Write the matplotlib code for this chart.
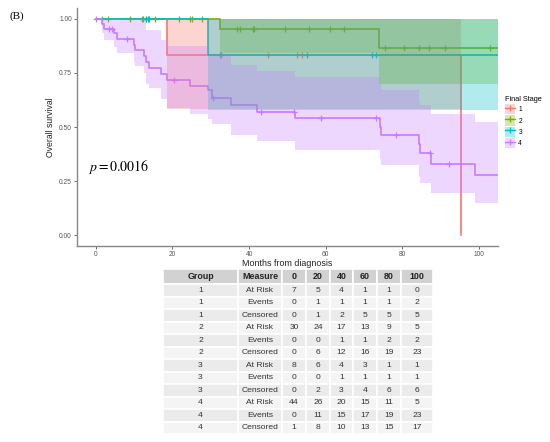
import matplotlib.pyplot as plt
import numpy as np
from matplotlib.patches import Patch
from matplotlib.lines import Line2D

plt.rcParams['font.family'] = ['Liberation Sans', 'DejaVu Sans']
plt.rcParams['mathtext.fontset'] = 'stix'

colors = ['#F8766D', '#7CAE00', '#00BFC4', '#C77CFF']
group_names = ['1', '2', '3', '4']

# Kaplan-Meier step data (time in months, survival)
g1_time = [0, 18.7, 95.3]
g1_surv = [1.0, 0.833, 0.0]
g1_end = 95.3
g1_cens = [13.0, 32.4, 45.0, 52.4, 53.7]
g1_ci_time = [18.7, 53.7]
g1_ci_low = [0.585, 0.585]
g1_ci_up = [1.0, 1.0]

g2_time = [0, 32.4, 74.0]
g2_surv = [1.0, 0.951, 0.863]
g2_end = 104.9
g2_cens = [1.6, 3.2, 9.0, 12.1, 12.4, 14.0, 15.5, 21.7, 24.5, 25.1, 27.8,
           36.9, 37.7, 41.0, 41.3, 49.3, 55.6, 61.2, 64.8,
           75.4, 80.5, 84.3, 87.1, 91.2, 102.8]
g2_ci_time = [32.4, 74.0, 104.9]
g2_ci_low = [0.84, 0.70, 0.70]
g2_ci_up = [1.0, 1.0, 1.0]

g3_time = [0, 29.3]
g3_surv = [1.0, 0.833]
g3_end = 104.9
g3_cens = [13.2, 13.7, 32.8, 55.1, 72.2, 73.2]
g3_ci_time = [29.3, 104.9]
g3_ci_low = [0.58, 0.58]
g3_ci_up = [1.0, 1.0]

g4_time = [0, 1.5, 2.2, 4.7, 5.4, 9.9, 10.3, 12.6, 13.2, 13.9, 17.1, 18.6,
           24.5, 29.3, 30.3, 35.4, 42.1, 51.9, 74.1, 74.5, 84.3, 84.5, 87.5, 98.9]
g4_surv = [1.0, 0.977, 0.955, 0.934, 0.906, 0.877, 0.854, 0.829, 0.799, 0.773,
           0.747, 0.719, 0.691, 0.670, 0.633, 0.602, 0.571, 0.541, 0.50, 0.461,
           0.42, 0.378, 0.330, 0.276]
g4_end = 104.9
g4_cens = [0.0, 3.5, 4.1, 8.0, 20.4, 30.6, 43.2, 51.7, 58.9, 73.2, 78.4, 87.3, 92.1]
g4_ci_time = g4_time
g4_ci_low = [1.0, 0.935, 0.90, 0.87, 0.84, 0.80, 0.78, 0.75, 0.70, 0.68, 0.63,
             0.59, 0.558, 0.535, 0.516, 0.465, 0.435, 0.396, 0.35, 0.323, 0.27,
             0.24, 0.194, 0.147]
g4_ci_up = [1.0, 1.0, 1.0, 1.0, 1.0, 1.0, 1.0, 1.0, 0.95, 0.95, 0.90, 0.876,
            0.876, 0.826, 0.826, 0.788, 0.757, 0.731, 0.70, 0.67, 0.62, 0.60,
            0.562, 0.522]

curves = [
    (g1_time, g1_surv, g1_end, g1_cens, g1_ci_time, g1_ci_low, g1_ci_up),
    (g2_time, g2_surv, g2_end, g2_cens, g2_ci_time, g2_ci_low, g2_ci_up),
    (g3_time, g3_surv, g3_end, g3_cens, g3_ci_time, g3_ci_low, g3_ci_up),
    (g4_time, g4_surv, g4_end, g4_cens, g4_ci_time, g4_ci_low, g4_ci_up),
]

# risk table
table_cols = ['Group', 'Measure', '0', '20', '40', '60', '80', '100']
table_groups = ['1', '1', '1', '2', '2', '2', '3', '3', '3', '4', '4', '4']
table_measures = ['At Risk', 'Events', 'Censored'] * 4
table_values = [
    [7, 5, 4, 1, 1, 0],
    [0, 1, 1, 1, 1, 2],
    [0, 1, 2, 5, 5, 5],
    [30, 24, 17, 13, 9, 5],
    [0, 0, 1, 1, 2, 2],
    [0, 6, 12, 16, 19, 23],
    [8, 6, 4, 3, 1, 1],
    [0, 0, 1, 1, 1, 1],
    [0, 2, 3, 4, 6, 6],
    [44, 26, 20, 15, 11, 5],
    [0, 11, 15, 17, 19, 23],
    [1, 8, 10, 13, 15, 17],
]

fig = plt.figure(figsize=(5.5, 4.42), dpi=100)
ax = fig.add_axes([0.1395, 0.4434, 0.766, 0.5385])

for (t, s, end, cens, ci_t, ci_lo, ci_up), c in zip(curves, colors):
    tt = list(t) + [end]
    ss = list(s) + [s[-1]]
    ax.step(tt, ss, where='post', color=c, lw=1.2, zorder=2)
    # censor marks on the curve
    idx = np.searchsorted(t, cens, side='right') - 1
    ax.plot(cens, np.array(s)[idx], ls='none', marker='+', color=c,
            ms=5, mew=0.9, zorder=2)
    ct = list(ci_t) + [end if end > ci_t[-1] else ci_t[-1]]
    ax.fill_between(ct, list(ci_lo) + [ci_lo[-1]], list(ci_up) + [ci_up[-1]],
                    step='post', color=c, alpha=0.3, lw=0, zorder=3)

ax.set_xlim(-5, 105)
ax.set_ylim(-0.05, 1.05)
ax.set_xticks([0, 20, 40, 60, 80, 100])
ax.set_yticks([0, 0.25, 0.5, 0.75, 1.0])
ax.set_yticklabels(['0.00', '0.25', '0.50', '0.75', '1.00'])
ax.tick_params(labelsize=4.8, length=2, width=0.6, colors='#555555', pad=1.5)
for sp in ['top', 'right']:
    ax.spines[sp].set_visible(False)
for sp in ['left', 'bottom']:
    ax.spines[sp].set_color('#888888')
    ax.spines[sp].set_linewidth(1.0)
ax.set_xlabel('Months from diagnosis', fontsize=6.4, labelpad=1, color='#222222')
ax.set_ylabel('Overall survival', fontsize=6.2, labelpad=3, color='#222222')

fig.text(88 / 550, 1 - 167 / 442, r'$p = 0.0016$', fontsize=10, va='center')
fig.text(10 / 550, 1 - 16 / 442, '(B)', fontsize=8, va='center',
         family='Liberation Serif')

handles = [(Patch(facecolor=c, alpha=0.3, edgecolor='none'),
            Line2D([], [], color=c, marker='+', lw=1.0, ms=5, mew=0.9))
           for c in colors]
fig.legend(handles, group_names, title='Final Stage', loc='upper left',
           bbox_to_anchor=(505 / 550, 1 - 96 / 442), frameon=False,
           fontsize=4.8, title_fontsize=5.3, handlelength=1.5, handleheight=2.0,
           labelspacing=0.15, handletextpad=0.5, alignment='left',
           borderaxespad=0, borderpad=0)

# table
tax = fig.add_axes([163 / 550, 1 - 434 / 442, 270 / 550, 165 / 442])
tax.axis('off')
cell_text = [[g, m] + [str(v) for v in vals]
             for g, m, vals in zip(table_groups, table_measures, table_values)]
col_w = np.array([75, 44, 24, 24, 23, 24, 24, 32], dtype=float)
tab = tax.table(cellText=cell_text, colLabels=table_cols, cellLoc='center',
                colWidths=list(col_w / col_w.sum()), bbox=[0, 0, 1, 1])
tab.auto_set_font_size(False)
for (r, cidx), cell in tab.get_celld().items():
    cell.set_edgecolor('white')
    cell.set_linewidth(1.2)
    if r == 0:
        cell.set_facecolor('#D2D2D2')
        cell.set_height(15)
        cell.get_text().set_fontweight('bold')
        cell.get_text().set_fontsize(6.4)
        cell.get_text().set_color('#222222')
    else:
        cell.set_facecolor('#EBEBEB' if r % 2 == 1 else '#F4F4F4')
        cell.set_height(12.4)
        cell.get_text().set_fontsize(6.1)
        cell.get_text().set_color('#333333')

fig.savefig('out.png', dpi=100)
